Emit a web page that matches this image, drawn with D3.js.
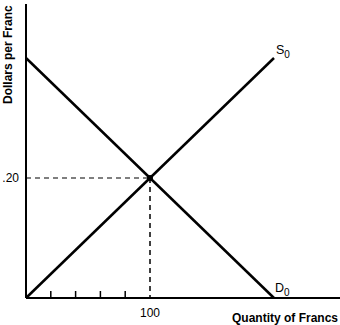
<!DOCTYPE html>
<html>
<head>
<meta charset="utf-8">
<script src="https://cdn.jsdelivr.net/npm/d3@7"></script>
<style>
  body { margin: 0; background: #fff; }
  text { font-family: "Liberation Sans", Arial, sans-serif; fill: #000; }
</style>
</head>
<body>
<div id="chart"></div>
<script>
// supply / demand for francs
var supplyQ = [0, 200];
var supplyP = [0, 0.40];
var demandQ = [0, 200];
var demandP = [0.40, 0];
var eqQ = 100, eqP = 0.20;
var xTicks = [20, 40, 60, 80, 100];
var xTickLabels = ["100"];
var yTickLabels = [".20"];

var width = 340, height = 325;
var x0 = 26, yBase = 298;

var svg = d3.select("#chart")
    .append("svg")
    .attr("width", width)
    .attr("height", height);

var x = d3.scaleLinear().domain([0, 100]).range([x0, 150]);
var y = d3.scaleLinear().domain([0, 0.20]).range([yBase, 178]);

// axes
svg.append("line")
    .attr("x1", x0).attr("x2", x0)
    .attr("y1", 4).attr("y2", yBase)
    .attr("stroke", "#000").attr("stroke-width", 2);
svg.append("line")
    .attr("x1", x0).attr("x2", 340)
    .attr("y1", yBase).attr("y2", yBase)
    .attr("stroke", "#000").attr("stroke-width", 2);

// small ticks on x axis
svg.selectAll(".tick")
    .data(xTicks.filter(function (d) { return d !== eqQ; }))
    .enter().append("line")
    .attr("x1", function (d) { return x(d); })
    .attr("x2", function (d) { return x(d); })
    .attr("y1", yBase - 7).attr("y2", yBase)
    .attr("stroke", "#000").attr("stroke-width", 1.5);

// dashed guides
svg.append("line")
    .attr("x1", x0).attr("x2", x(eqQ))
    .attr("y1", y(eqP)).attr("y2", y(eqP))
    .attr("stroke", "#000").attr("stroke-width", 1.2)
    .attr("stroke-dasharray", "5,4");
svg.append("line")
    .attr("x1", x(eqQ)).attr("x2", x(eqQ))
    .attr("y1", y(eqP)).attr("y2", yBase)
    .attr("stroke", "#000").attr("stroke-width", 1.5)
    .attr("stroke-dasharray", "5,4");

var line = d3.line()
    .x(function (d) { return x(d[0]); })
    .y(function (d) { return y(d[1]); });

svg.append("path")
    .datum(d3.zip(supplyQ, supplyP))
    .attr("fill", "none").attr("stroke", "#000").attr("stroke-width", 2.5)
    .attr("d", line);
svg.append("path")
    .datum(d3.zip(demandQ, demandP))
    .attr("fill", "none").attr("stroke", "#000").attr("stroke-width", 2.5)
    .attr("d", line);

svg.append("circle")
    .attr("cx", x(eqQ)).attr("cy", y(eqP)).attr("r", 3)
    .attr("fill", "#000");

// tick labels
svg.append("text")
    .attr("x", x(eqQ)).attr("y", 317)
    .attr("text-anchor", "middle")
    .attr("font-size", 12)
    .text(xTickLabels[0]);
svg.append("text")
    .attr("x", 19).attr("y", y(eqP) + 4)
    .attr("text-anchor", "end")
    .attr("font-size", 12)
    .text(yTickLabels[0]);

// curve labels
var s = svg.append("text").attr("x", x(supplyQ[1]) + 2).attr("y", 54).attr("font-size", 12.5);
s.append("tspan").text("S");
s.append("tspan").attr("font-size", 10).attr("dy", 4).text("0");
var dl = svg.append("text").attr("x", x(demandQ[1]) + 1).attr("y", 292).attr("font-size", 12.5);
dl.append("tspan").text("D");
dl.append("tspan").attr("font-size", 10).attr("dy", 4).text("0");

// axis titles
svg.append("text")
    .attr("x", 338).attr("y", 322)
    .attr("text-anchor", "end")
    .attr("font-size", 12)
    .attr("font-weight", "bold")
    .text("Quantity of Francs");
svg.append("text")
    .attr("transform", "translate(12,104) rotate(-90)")
    .attr("font-size", 12)
    .attr("font-weight", "bold")
    .text("Dollars per Franc");
</script>
</body>
</html>
